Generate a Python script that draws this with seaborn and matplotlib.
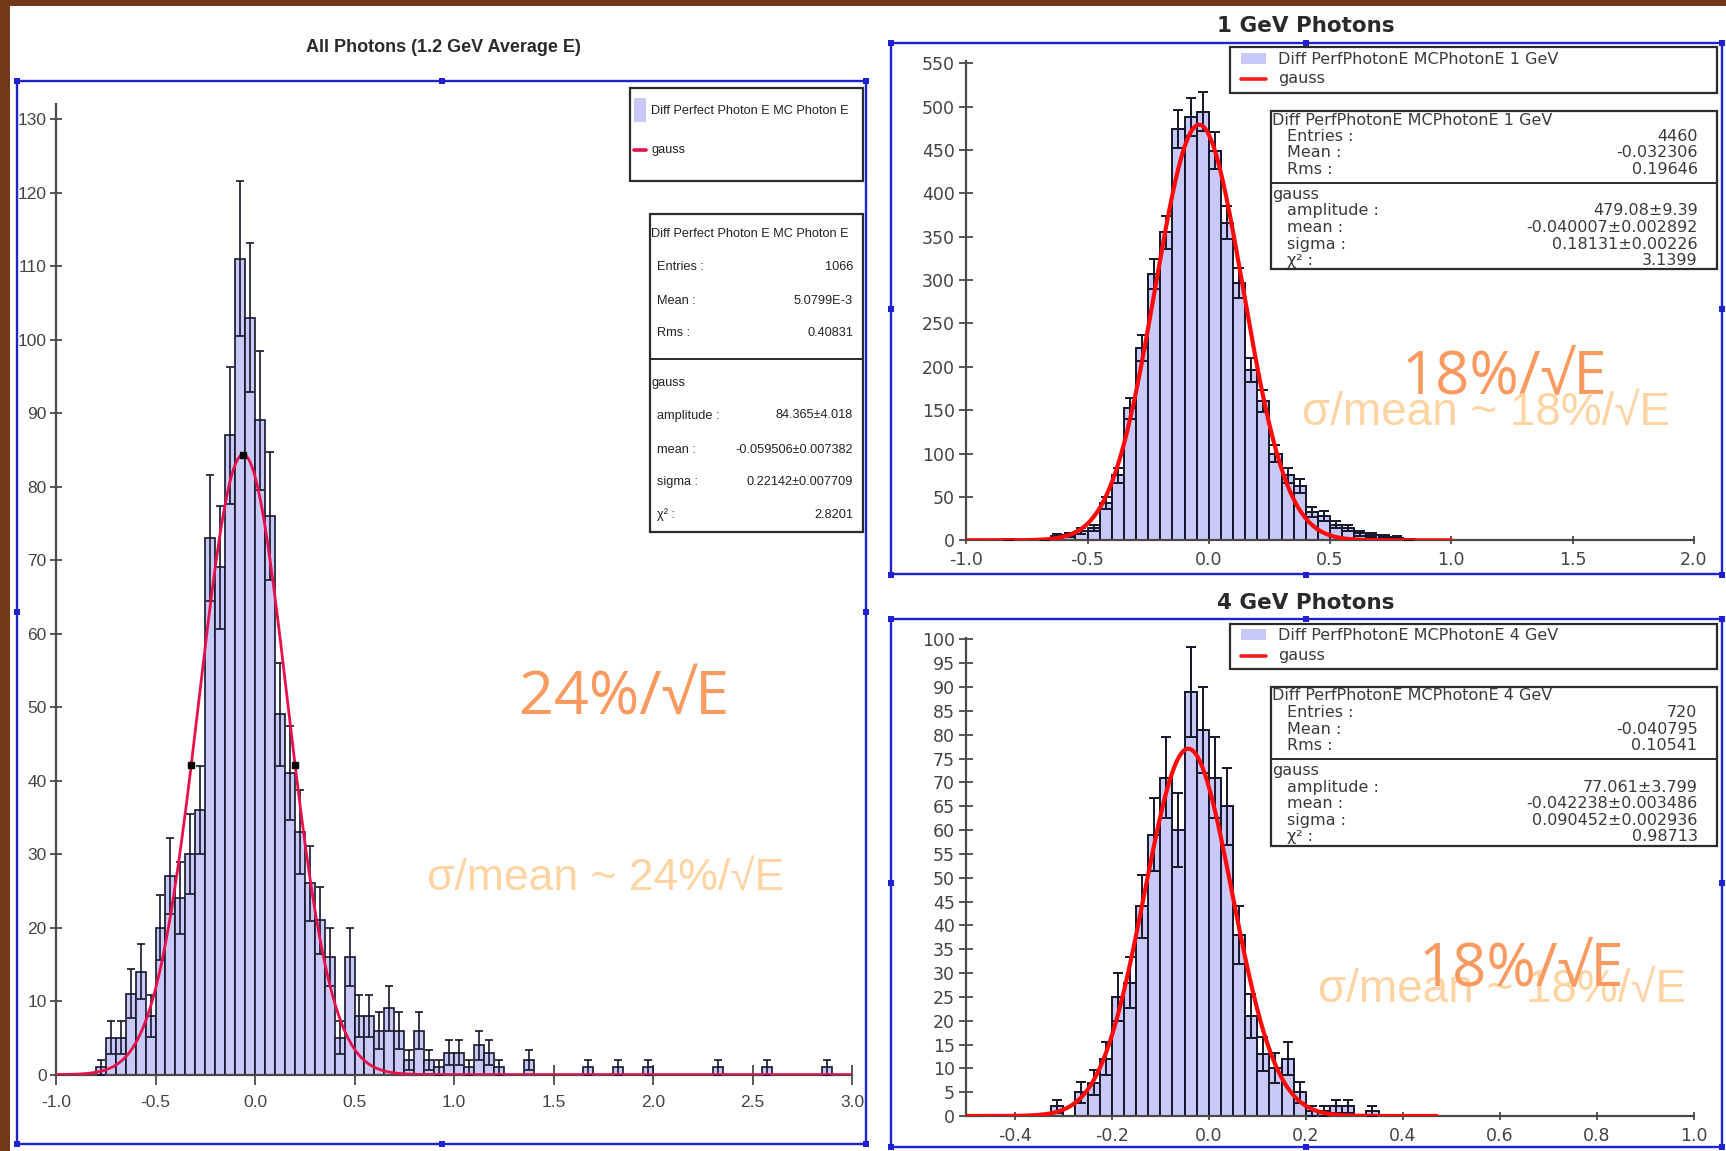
import numpy as np
import pandas as pd
import matplotlib
matplotlib.use("Agg")
import matplotlib.pyplot as plt
from matplotlib.patches import Rectangle
from matplotlib.lines import Line2D
import seaborn as sns

W, H = 1726, 1151

# ---------------- data ----------------
# All photons: 0.05 wide bins from -1.0 to 3.0
all_range = (-1.0, 3.0, 0.05)
all_counts = [0, 0, 0, 0, 1, 5, 5, 11, 14, 8,
              20, 27, 24, 30, 36, 73, 69, 87, 111, 103,
              89, 76, 49, 41, 33, 26, 21, 16, 5, 16,
              8, 8, 6, 9, 6, 2, 6, 2, 1, 3,
              3, 1, 4, 3, 1, 0, 0, 2, 0, 0,
              0, 0, 0, 1, 0, 0, 1, 0, 0, 1,
              0, 0, 0, 0, 0, 0, 1, 0, 0, 0,
              0, 1, 0, 0, 0, 0, 0, 1, 0, 0]
all_fit = dict(amplitude=84.365, mean=-0.059506, sigma=0.22142)
all_stats = [("Entries :", "1066"), ("Mean :", "5.0799E-3"), ("Rms :", "0.40831")]
all_fit_rows = [("amplitude :", "84.365\u00b14.018"), ("mean :", "-0.059506\u00b10.007382"),
                ("sigma :", "0.22142\u00b10.007709"), ("\u03c7\u00b2 :", "2.8201")]
all_xticks = [-1.0, -0.5, 0.0, 0.5, 1.0, 1.5, 2.0, 2.5, 3.0]
all_yticks = list(range(0, 131, 10))

# 1 GeV photons: 0.05 wide bins from -1.0 to 2.0
g1_range = (-1.0, 2.0, 0.05)
g1_counts = [0, 0, 0, 1, 0, 0, 1, 5, 6, 11,
             14, 43, 75, 152, 222, 307, 355, 474, 488, 494,
             449, 366, 297, 196, 161, 100, 75, 63, 33, 28,
             18, 14, 8, 6, 4, 3, 1, 0, 0, 0,
             0, 0, 0, 0, 0, 0, 0, 0, 0, 0,
             0, 0, 0, 0, 0, 0, 0, 0, 0, 0]
g1_fit = dict(amplitude=479.08, mean=-0.040007, sigma=0.18131)
g1_stats = [("Entries :", "4460"), ("Mean :", "-0.032306"), ("Rms :", "0.19646")]
g1_fit_rows = [("amplitude :", "479.08\u00b19.39"), ("mean :", "-0.040007\u00b10.002892"),
               ("sigma :", "0.18131\u00b10.00226"), ("\u03c7\u00b2 :", "3.1399")]
g1_xticks = [-1.0, -0.5, 0.0, 0.5, 1.0, 1.5, 2.0]
g1_yticks = list(range(0, 551, 50))

# 4 GeV photons: 0.025 wide bins from -0.5 to 1.0
g4_range = (-0.5, 1.0, 0.025)
g4_counts = [0, 0, 0, 0, 0, 0, 0, 2, 0, 5,
             7, 12, 25, 28, 44, 59, 71, 60, 89, 81,
             71, 65, 38, 21, 13, 10, 12, 5, 1, 1,
             2, 2, 0, 1, 0, 0, 0, 0, 0, 0,
             0, 0, 0, 0, 0, 0, 0, 0, 0, 0,
             0, 0, 0, 0, 0, 0, 0, 0, 0, 0]
g4_fit = dict(amplitude=77.061, mean=-0.042238, sigma=0.090452)
g4_stats = [("Entries :", "720"), ("Mean :", "-0.040795"), ("Rms :", "0.10541")]
g4_fit_rows = [("amplitude :", "77.061\u00b13.799"), ("mean :", "-0.042238\u00b10.003486"),
               ("sigma :", "0.090452\u00b10.002936"), ("\u03c7\u00b2 :", "0.98713")]
g4_xticks = [-0.4, -0.2, 0.0, 0.2, 0.4, 0.6, 0.8, 1.0]
g4_yticks = list(range(0, 101, 5))

# ---------------- style ----------------
NARROW = ["Liberation Sans Narrow", "Liberation Sans", "DejaVu Sans"]
WIDE = ["DejaVu Sans"]
ROUND = ["Open Sans", "DejaVu Sans"]
SOFT = ["Liberation Sans", "DejaVu Sans"]
BAR_FILL = "#c9c9f7"
BAR_EDGE = "#15152a"
FRAME_BLUE = "#2121d4"
ORANGE = "#f99a60"
PEACH = "#ffd3a2"

sns.set_theme(style="white")
plt.rcParams["font.family"] = ["DejaVu Sans"]


def fx(x):
    return x / W


def fy(y):
    return 1 - y / H


def gauss(x, amplitude, mean, sigma):
    return amplitude * np.exp(-0.5 * ((x - mean) / sigma) ** 2)


def add_axes_px(fig, x0, x1, y_top, y_bot):
    return fig.add_axes([fx(x0), fy(y_bot), (x1 - x0) / W, (y_bot - y_top) / H])


def draw_hist(ax, rng, counts, lw, cap):
    lo, hi, step = rng
    n = int(round((hi - lo) / step))
    edges = lo + step * np.arange(n + 1)
    centers = 0.5 * (edges[:-1] + edges[1:])
    counts = np.asarray(counts, dtype=float)
    df = pd.DataFrame({"x": centers, "n": counts})
    sns.histplot(data=df, x="x", weights="n", bins=list(edges), ax=ax, color=BAR_FILL,
                 edgecolor=BAR_EDGE, linewidth=lw, alpha=1.0, zorder=2)
    nz = counts > 0
    ax.errorbar(centers[nz], counts[nz], yerr=np.sqrt(counts[nz]), fmt="none",
                ecolor=BAR_EDGE, elinewidth=lw, capsize=cap, capthick=lw, zorder=3)
    ax.set_xlabel("")
    ax.set_ylabel("")


def style_axes(ax, xlim, ylim, xticks, yticks, xfmt, fam, fs, ylen, xlen, ypad, xpad):
    ax.set_facecolor("none")
    ax.set_xlim(*xlim)
    ax.set_ylim(*ylim)
    for s in ("top", "right"):
        ax.spines[s].set_visible(False)
    for s in ("left", "bottom"):
        ax.spines[s].set_color("#4a4a4a")
        ax.spines[s].set_linewidth(1.6)
    ax.set_xticks(xticks)
    ax.set_xticklabels([xfmt.format(v) for v in xticks], fontfamily=fam, fontsize=fs, color="#444444")
    ax.set_yticks(yticks)
    ax.set_yticklabels([str(v) for v in yticks], fontfamily=fam, fontsize=fs, color="#444444")
    ax.tick_params(axis="y", direction="inout", length=ylen, width=1.3, color="#4a4a4a", pad=ypad, left=True)
    ax.tick_params(axis="x", direction="inout", length=xlen, width=1.3, color="#4a4a4a", pad=xpad, bottom=True)
    ax.grid(False)


def blue_frame(fig, x0, x1, y0, y1):
    fig.add_artist(Rectangle((fx(x0), fy(y1)), (x1 - x0) / W, (y1 - y0) / H,
                             transform=fig.transFigure, fill=False,
                             edgecolor=FRAME_BLUE, linewidth=1.7, zorder=5))
    xm, ym = 0.5 * (x0 + x1), 0.5 * (y0 + y1)
    for (hx, hy) in [(x0, y0), (xm, y0), (x1, y0), (x0, ym), (x1, ym), (x0, y1), (xm, y1), (x1, y1)]:
        fig.add_artist(Rectangle((fx(hx - 3), fy(hy + 3)), 6 / W, 6 / H,
                                 transform=fig.transFigure, facecolor=FRAME_BLUE,
                                 edgecolor="none", zorder=6))


def text_box(fig, x0, x1, y0, y1, lw=1.6):
    fig.add_artist(Rectangle((fx(x0), fy(y1)), (x1 - x0) / W, (y1 - y0) / H,
                             transform=fig.transFigure, facecolor="white",
                             edgecolor="#2b2b2b", linewidth=lw, zorder=7))


def hline(fig, x0, x1, y, lw=1.4):
    fig.add_artist(Line2D([fx(x0), fx(x1)], [fy(y), fy(y)], transform=fig.transFigure,
                          color="#2b2b2b", linewidth=lw, zorder=8))


def put(fig, x, y, s, fam, fs, ha="left", color="#2a2a2a", **kw):
    fig.text(fx(x), fy(y), s, ha=ha, va="center", fontfamily=fam, fontsize=fs,
             color=color, zorder=9, **kw)


def legend_and_stats(fig, name, line_color, box, stats, fit_rows, fam, fs, color):
    (lx0, lx1, ly0, ly1, patch, line_y, text_x, name_y,
     sx0, sx1, sy0, sy1, sep_y, s_title_y, label_x, value_x, rows_y, gauss_y, fit_y) = box
    text_box(fig, lx0, lx1, ly0, ly1)
    px0, px1, py0, py1 = patch
    fig.add_artist(Rectangle((fx(px0), fy(py1)), (px1 - px0) / W, (py1 - py0) / H,
                             transform=fig.transFigure, facecolor=BAR_FILL,
                             edgecolor="none", zorder=8))
    put(fig, text_x, name_y, name, fam, fs, color=color)
    fig.add_artist(Line2D([fx(px0), fx(px1)], [fy(line_y), fy(line_y)], transform=fig.transFigure,
                          color=line_color, linewidth=2.6, zorder=8))
    put(fig, text_x, line_y, "gauss", fam, fs, color=color)

    text_box(fig, sx0, sx1, sy0, sy1)
    hline(fig, sx0, sx1, sep_y)
    put(fig, sx0 + 1, s_title_y, name, fam, fs, color=color)
    for (lab, val), yy in zip(stats, rows_y):
        put(fig, label_x, yy, lab, fam, fs, color=color)
        put(fig, value_x, yy, val, fam, fs, ha="right", color=color)
    put(fig, sx0 + 1, gauss_y, "gauss", fam, fs, color=color)
    for (lab, val), yy in zip(fit_rows, fit_y):
        put(fig, label_x, yy, lab, fam, fs, color=color)
        put(fig, value_x, yy, val, fam, fs, ha="right", color=color)


# ---------------- figure ----------------
fig = plt.figure(figsize=(W / 100, H / 100), dpi=100)
fig.patch.set_facecolor("#733719")
fig.add_artist(Rectangle((fx(10), 0), (W - 10) / W, (H - 6) / H, transform=fig.transFigure,
                         facecolor="white", edgecolor="none", zorder=0))

# ---- left panel: all photons ----
axL = add_axes_px(fig, 56, 852, 1074.6 - 132 * 7.35, 1074.6)
draw_hist(axL, all_range, all_counts, lw=1.2, cap=3.0)
xg = np.linspace(-1.0, 3.0, 900)
sns.lineplot(x=xg, y=gauss(xg, **all_fit), ax=axL, color="#e8104c", linewidth=2.0, zorder=4)
half = all_fit["sigma"] * np.sqrt(2 * np.log(2))
marks_x = np.array([all_fit["mean"] - half, all_fit["mean"], all_fit["mean"] + half])
axL.plot(marks_x, gauss(marks_x, **all_fit), "s", color="black", markersize=4.5, zorder=5)
style_axes(axL, (-1.0, 3.0), (0, 132), all_xticks, all_yticks, "{:.1f}", NARROW, 12.5,
           ylen=8.6, xlen=14, ypad=2.5, xpad=8)

fig.text(fx(443), fy(48), "All Photons (1.2 GeV Average E)", ha="center", va="center",
         fontfamily=NARROW, fontsize=13, fontweight="bold", color="#2a2a2a")
blue_frame(fig, 17, 866, 80.7, 1143.5)

legend_and_stats(
    fig, "Diff Perfect Photon E MC Photon E", "#e8104c",
    (630, 863, 88, 181, (634, 646, 98, 122), 150, 651, 111,
     650, 863, 214, 532, 358.5, 234, 657, 853,
     [266.7, 300.7, 333], 383, [415.5, 450, 481.5, 515]),
    all_stats, all_fit_rows, NARROW, 9.2, "#222222")

fig.text(fx(624), fy(698), "24%/\u221aE", ha="center", va="center", fontfamily=ROUND,
         fontsize=44, color=ORANGE, zorder=10)
fig.text(fx(606), fy(879), "\u03c3/mean ~ 24%/\u221aE", ha="center", va="center", fontfamily=SOFT,
         fontsize=32, color=PEACH, zorder=10)

# ---- top right: 1 GeV photons ----
axT = add_axes_px(fig, 966.3, 1693.8, 540.3 - 552 * 0.8675, 540.3)
draw_hist(axT, g1_range, g1_counts, lw=1.4, cap=3.6)
xg = np.linspace(-1.0, 1.0, 700)
sns.lineplot(x=xg, y=gauss(xg, **g1_fit), ax=axT, color="#ff0a0a", linewidth=3.0, zorder=4)
style_axes(axT, (-1.0, 2.0), (0, 552), g1_xticks, g1_yticks, "{:.1f}", WIDE, 12.5,
           ylen=9.4, xlen=6, ypad=3.5, xpad=5)
fig.text(fx(1306), fy(26), "1 GeV Photons", ha="center", va="center",
         fontfamily=WIDE, fontsize=15.5, fontweight="bold", color="#2a2a2a")
blue_frame(fig, 890.8, 1722, 43.3, 574.5)
legend_and_stats(
    fig, "Diff PerfPhotonE MCPhotonE 1 GeV", "#ff1a1a",
    (1229.7, 1716.5, 47, 93.3, (1240.5, 1266, 52.7, 64), 79, 1278, 59.4,
     1271.3, 1716.5, 111, 269, 183, 120.4, 1287.4, 1697.6,
     [136.2, 152.7, 169.3], 194.5, [210.7, 227.6, 244.2, 260.3]),
    g1_stats, g1_fit_rows, WIDE, 11.5, "#3a3a3a")
fig.text(fx(1504), fy(377), "18%/\u221aE", ha="center", va="center", fontfamily=ROUND,
         fontsize=43, color=ORANGE, zorder=10)
fig.text(fx(1486), fy(413), "\u03c3/mean ~ 18%/\u221aE", ha="center", va="center", fontfamily=SOFT,
         fontsize=33, color=PEACH, zorder=10)

# ---- bottom right: 4 GeV photons ----
axB = add_axes_px(fig, 966.3, 1693.8, 1116 - 100.3 * 4.766, 1116)
draw_hist(axB, g4_range, g4_counts, lw=1.4, cap=3.6)
xg = np.linspace(-0.5, 0.47, 500)
sns.lineplot(x=xg, y=gauss(xg, **g4_fit), ax=axB, color="#ff0a0a", linewidth=3.0, zorder=4)
style_axes(axB, (-0.5, 1.0), (0, 100.3), g4_xticks, g4_yticks, "{:.1f}", WIDE, 12.5,
           ylen=9.4, xlen=6, ypad=3.5, xpad=5)
fig.text(fx(1306), fy(603), "4 GeV Photons", ha="center", va="center",
         fontfamily=WIDE, fontsize=15.5, fontweight="bold", color="#2a2a2a")
blue_frame(fig, 890.8, 1722, 619.3, 1147)
legend_and_stats(
    fig, "Diff PerfPhotonE MCPhotonE 4 GeV", "#ff1a1a",
    (1229.7, 1716.5, 624, 669.4, (1240.5, 1266, 629.4, 640), 655.5, 1278, 635.8,
     1271.3, 1716.5, 686.6, 845.8, 758.9, 695.5, 1287.4, 1697.6,
     [712.7, 729.5, 745.6], 770.7, [787.5, 804, 820.4, 836.9]),
    g4_stats, g4_fit_rows, WIDE, 11.5, "#3a3a3a")
fig.text(fx(1521), fy(969), "18%/\u221aE", ha="center", va="center", fontfamily=ROUND,
         fontsize=43, color=ORANGE, zorder=10)
fig.text(fx(1502), fy(990), "\u03c3/mean ~ 18%/\u221aE", ha="center", va="center", fontfamily=SOFT,
         fontsize=33, color=PEACH, zorder=9)

fig.savefig("out.png", dpi=100, facecolor=fig.get_facecolor())
